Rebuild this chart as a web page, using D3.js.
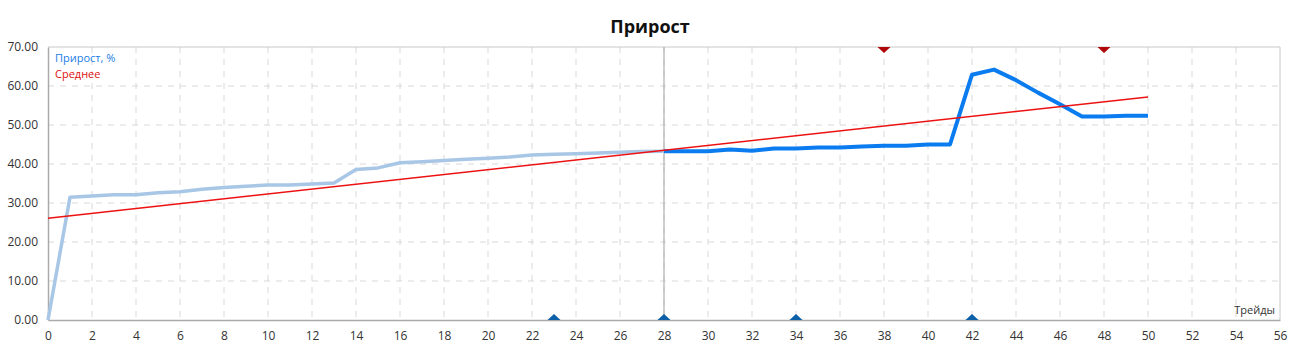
<!DOCTYPE html>
<html>
<head>
<meta charset="utf-8">
<script src="https://cdn.jsdelivr.net/npm/d3@7"></script>
<style>
  body { margin: 0; background: #fff; }
  text { font-family: "Open Sans", "Noto Sans", sans-serif; }
</style>
</head>
<body>
<div id="chart"></div>
<script>
var svgWidth = 1290;
var svgHeight = 353;

// data
var trades = d3.range(0, 51);
var growth = [0, 31.5, 31.8, 32.1, 32.1, 32.6, 32.9, 33.5, 34.0, 34.3,
  34.6, 34.6, 34.9, 35.1, 38.6, 39.0, 40.3, 40.6, 40.9, 41.2,
  41.5, 41.8, 42.3, 42.5, 42.6, 42.8, 43.0, 43.2, 43.3, 43.3,
  43.3, 43.7, 43.4, 44.0, 44.0, 44.2, 44.2, 44.5, 44.7, 44.7,
  45.0, 45.0, 62.9, 64.2, 61.5, 58.3, 55.3, 52.2, 52.2, 52.4, 52.4];
var splitTrade = 28;
var avgStart = [0, 26.1];
var avgEnd = [50, 57.2];
var upMarks = [23, 28, 34, 42];
var downMarks = [38, 48];
var xTicks = d3.range(0, 57, 2);
var yTicks = [0, 10, 20, 30, 40, 50, 60, 70];

var padLeft = 48, padRight = 1280, padTop = 47, padBottom = 320;

var svg = d3.select("#chart")
  .append("svg")
  .attr("width", svgWidth)
  .attr("height", svgHeight);

var xScale = d3.scaleLinear().domain([0, 56]).range([padLeft, padRight]);
var yScale = d3.scaleLinear().domain([0, 70]).range([padBottom, padTop]);

// title
svg.append("text")
  .attr("x", 650).attr("y", 33)
  .attr("text-anchor", "middle")
  .attr("font-size", 18).attr("font-weight", "bold")
  .attr("fill", "#111")
  .text("Прирост");

// grid
svg.append("g").selectAll("line")
  .data(xTicks.filter(function(d) { return d > 0 && d < 56; }))
  .enter().append("line")
  .attr("x1", function(d) { return xScale(d); })
  .attr("x2", function(d) { return xScale(d); })
  .attr("y1", padTop).attr("y2", padBottom)
  .attr("stroke", "#d8d8d8").attr("stroke-dasharray", "6,6");
svg.append("g").selectAll("line")
  .data(yTicks.filter(function(d) { return d > 0 && d < 70; }))
  .enter().append("line")
  .attr("x1", padLeft).attr("x2", padRight)
  .attr("y1", function(d) { return yScale(d); })
  .attr("y2", function(d) { return yScale(d); })
  .attr("stroke", "#d8d8d8").attr("stroke-dasharray", "6,6");

// frame
svg.append("line").attr("x1", padLeft).attr("x2", padRight).attr("y1", padTop).attr("y2", padTop)
  .attr("stroke", "#c8c8c8");
svg.append("line").attr("x1", padRight).attr("x2", padRight).attr("y1", padTop).attr("y2", padBottom)
  .attr("stroke", "#c8c8c8");

// axes
var xAxis = d3.axisBottom(xScale).tickValues(xTicks).tickSize(0).tickPadding(11)
  .tickFormat(d3.format("d"));
var gx = svg.append("g")
  .attr("transform", "translate(0," + padBottom + ")")
  .call(xAxis);
var yAxis = d3.axisLeft(yScale).tickValues(yTicks).tickSize(0).tickPadding(10)
  .tickFormat(d3.format(".2f"));
var gy = svg.append("g")
  .attr("transform", "translate(" + padLeft + ",0)")
  .call(yAxis);
[gx, gy].forEach(function(g) {
  g.select(".domain").attr("stroke", "#aaa").attr("stroke-width", 1.5);
  g.selectAll("text").attr("font-size", 12).attr("fill", "#333")
    .style("font-family", "'Open Sans', 'Noto Sans', sans-serif");
});

// vertical split line
svg.append("line")
  .attr("x1", xScale(splitTrade)).attr("x2", xScale(splitTrade))
  .attr("y1", padTop).attr("y2", padBottom)
  .attr("stroke", "#b0b0b0").attr("stroke-width", 1.2);

var line = d3.line()
  .x(function(d) { return xScale(d[0]); })
  .y(function(d) { return yScale(d[1]); });

var points = trades.map(function(t, i) { return [t, growth[i]]; });

svg.append("path")
  .datum(points.filter(function(d) { return d[0] <= splitTrade; }))
  .attr("d", line)
  .attr("fill", "none")
  .attr("stroke", "#a8c6e6").attr("stroke-width", 3.5)
  .attr("stroke-linejoin", "round");

svg.append("path")
  .datum(points.filter(function(d) { return d[0] >= splitTrade; }))
  .attr("d", line)
  .attr("fill", "none")
  .attr("stroke", "#0a7cf0").attr("stroke-width", 4)
  .attr("stroke-linejoin", "round");

// average
svg.append("path")
  .datum([avgStart, avgEnd])
  .attr("d", line)
  .attr("fill", "none")
  .attr("stroke", "#ee1111").attr("stroke-width", 1.5);

// flat triangle markers sitting on the axis / hanging from the top frame
var flatTri = "M-6.5,0L0,-6L6.5,0Z";
svg.append("g").selectAll("path")
  .data(upMarks).enter().append("path")
  .attr("d", flatTri)
  .attr("transform", function(d) { return "translate(" + xScale(d) + "," + padBottom + ")"; })
  .attr("fill", "#0d5fa8");
svg.append("g").selectAll("path")
  .data(downMarks).enter().append("path")
  .attr("d", flatTri)
  .attr("transform", function(d) { return "translate(" + xScale(d) + "," + padTop + ") scale(1,-1)"; })
  .attr("fill", "#b00808");

// legend
svg.append("text").attr("x", 55).attr("y", 62)
  .attr("font-size", 11).attr("fill", "#1a7de6").text("Прирост, %");
svg.append("text").attr("x", 55).attr("y", 78)
  .attr("font-size", 11).attr("fill", "#e01010").text("Среднее");

// axis name
svg.append("text").attr("x", 1275).attr("y", 314)
  .attr("text-anchor", "end")
  .attr("font-size", 11).attr("fill", "#333").text("Трейды");
</script>
</body>
</html>
